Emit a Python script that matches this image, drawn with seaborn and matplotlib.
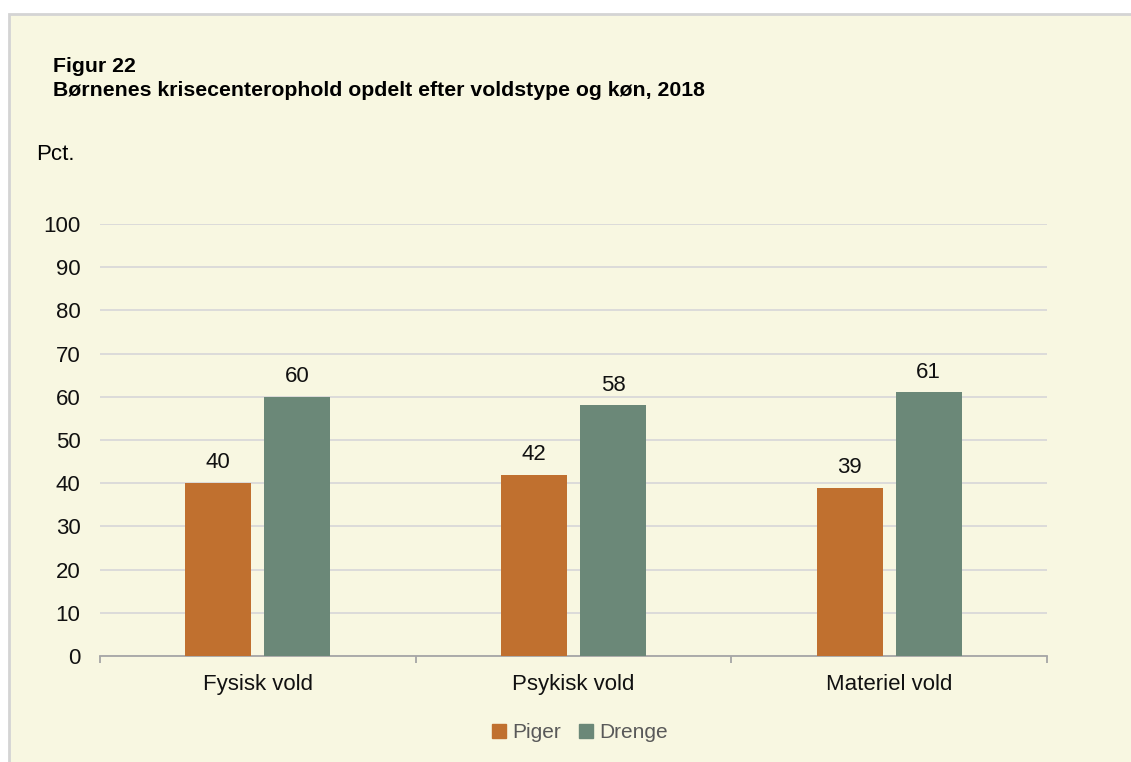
import pandas as pd
import matplotlib.pyplot as plt
import matplotlib.patches as mpatches
import seaborn as sns

# data
categories = ['Fysisk vold', 'Psykisk vold', 'Materiel vold']
piger = [40, 42, 39]
drenge = [60, 58, 61]
series = ['Piger', 'Drenge']
colors = ['#C0702F', '#6B8878']

df = pd.DataFrame({
    'Voldstype': categories * 2,
    'Køn': ['Piger'] * 3 + ['Drenge'] * 3,
    'Pct': piger + drenge,
})

sns.set_style('white')
plt.rcParams['font.family'] = ['Liberation Sans', 'DejaVu Sans']
plt.rcParams['text.color'] = 'black'

bg = '#F8F7E1'
fig = plt.figure(figsize=(11.31, 7.62), dpi=100)
fig.patch.set_facecolor('white')
# cream panel with light grey frame
fig.patches.append(mpatches.Rectangle((9 / 1131, -0.01), 1.1, 1 - 14 / 762 + 0.01,
                                      transform=fig.transFigure, facecolor=bg,
                                      edgecolor='#D4D4D4', linewidth=2, zorder=-5))

ax = fig.add_axes([100 / 1131, 1 - 656 / 762, 947 / 1131, 432 / 762])
ax.patch.set_alpha(0)

sns.barplot(data=df, x='Voldstype', y='Pct', hue='Køn', hue_order=series,
            palette=colors, width=0.5, gap=0.165, saturation=1, ax=ax,
            legend=False, linewidth=0, zorder=3)

for c in ax.containers:
    ax.bar_label(c, fmt='%d', padding=7, fontsize=16, color='#111111')

ax.set_ylim(0, 100)
ax.set_xlim(-0.5, 2.5)
ax.set_yticks(range(0, 101, 10))
ax.yaxis.grid(True, color='#D9D9D9', linewidth=1.3, zorder=0)
ax.set_axisbelow(True)
ax.set_xlabel('')
ax.set_ylabel('')

for s in ['top', 'right', 'left']:
    ax.spines[s].set_visible(False)
ax.spines['bottom'].set_color('#A6A6A6')
ax.spines['bottom'].set_linewidth(1.3)

ax.tick_params(axis='y', length=0, pad=14, labelsize=16, labelcolor='#111111')
ax.tick_params(axis='x', which='major', length=0, pad=13, labelsize=16, labelcolor='#111111')
ax.set_xticks([-0.5, 0.5, 1.5, 2.5], minor=True)
ax.tick_params(axis='x', which='minor', bottom=True, length=5, width=1.3,
               color='#A6A6A6', direction='out')

fig.text(53 / 1131, 1 - 67 / 762, 'Figur 22', fontsize=15.3, fontweight='bold', va='center')
fig.text(53 / 1131, 1 - 90 / 762, 'Børnenes krisecenterophold opdelt efter voldstype og køn, 2018',
         fontsize=15.3, fontweight='bold', va='center')
fig.text(36 / 1131, 1 - 155 / 762, 'Pct.', fontsize=16, va='center')

handles = [mpatches.Patch(color=c, label=s) for c, s in zip(colors, series)]
fig.legend(handles=handles, loc='center', bbox_to_anchor=(580 / 1131, 1 - 733 / 762),
           ncol=2, frameon=False, fontsize=15, labelcolor='#595959',
           handlelength=0.65, handleheight=0.65, handletextpad=0.3, columnspacing=0.9)

fig.savefig('out.png', dpi=100, facecolor=fig.get_facecolor())
